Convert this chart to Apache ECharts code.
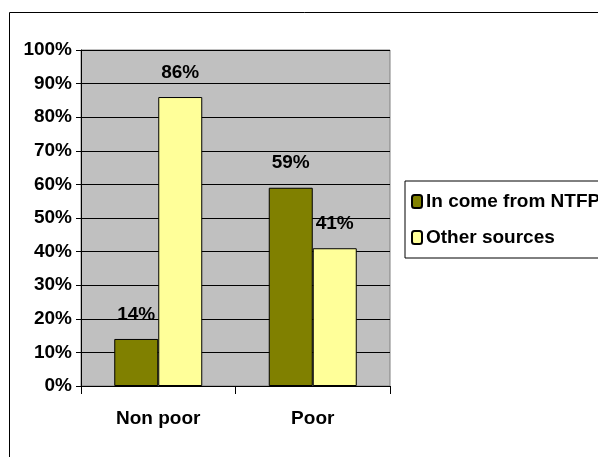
<!DOCTYPE html>
<html>
<head>
<meta charset="utf-8">
<script src="https://cdn.jsdelivr.net/npm/echarts@6/dist/echarts.min.js"></script>
<style>
    html, body { margin: 0; padding: 0; background: #fff; }
    #chartIncome { width: 598px; height: 457px; }
</style>
</head>
<body>
<div id="chartIncome"></div>
<script>
    // data
    var categories = ['Non poor', 'Poor'];
    var seriesNames = ['In come from NTFPs', 'Other sources'];
    var ntfpValues = [14, 59];
    var otherValues = [86, 41];

    var font = '"Liberation Sans", Arial, sans-serif';
    var fontSize = 19;

    var myChart = echarts.init(document.getElementById('chartIncome'));
    myChart.setOption({
        animation: false,
        textStyle: { fontFamily: font },
        graphic: [{
            type: 'rect',
            shape: { x: 9.5, y: 12.5, width: 700, height: 600 },
            style: { fill: null, stroke: '#000', lineWidth: 1 },
        }],
        grid: {
            left: 81,
            top: 50,
            right: 208,
            bottom: 71,
            show: true,
            backgroundColor: '#c0c0c0',
            borderColor: '#808080',
            borderWidth: 1,
        },
        legend: {
            orient: 'vertical',
            left: 405,
            top: 181,
            data: seriesNames,
            backgroundColor: '#fff',
            borderColor: '#000',
            borderWidth: 1,
            padding: [11, 60, 11, 6],
            itemGap: 17,
            itemWidth: 10,
            itemHeight: 13,
            textStyle: {
                fontFamily: font,
                fontSize: fontSize,
                fontWeight: 'bold',
                color: '#000',
                padding: [0, 0, 0, -1],
            },
        },
        xAxis: {
            type: 'category',
            data: categories,
            axisLine: { lineStyle: { color: '#000' } },
            axisTick: { show: true, length: 8, lineStyle: { color: '#000' } },
            axisLabel: {
                color: '#000',
                fontFamily: font,
                fontSize: fontSize,
                fontWeight: 'bold',
                margin: 23,
            },
        },
        yAxis: {
            type: 'value',
            min: 0,
            max: 100,
            interval: 10,
            axisLine: { show: true, lineStyle: { color: '#000' } },
            axisTick: { show: true, length: 5, lineStyle: { color: '#000' } },
            axisLabel: {
                formatter: '{value}%',
                color: '#000',
                fontFamily: font,
                fontSize: fontSize,
                fontWeight: 'bold',
                margin: 9,
            },
            splitLine: { show: true, lineStyle: { color: '#000' } },
        },
        series: [{
            name: seriesNames[0],
            type: 'bar',
            data: ntfpValues,
            barWidth: 44,
            barGap: '0%',
            itemStyle: { color: '#808000', borderColor: '#000', borderWidth: 1 },
            label: {
                show: true,
                position: 'top',
                distance: 15,
                formatter: '{c}%',
                color: '#000',
                fontFamily: font,
                fontSize: fontSize,
                fontWeight: 'bold',
            },
        }, {
            name: seriesNames[1],
            type: 'bar',
            data: otherValues,
            barWidth: 44,
            barGap: '0%',
            itemStyle: { color: '#ffff99', borderColor: '#000', borderWidth: 1 },
            label: {
                show: true,
                position: 'top',
                distance: 15,
                formatter: '{c}%',
                color: '#000',
                fontFamily: font,
                fontSize: fontSize,
                fontWeight: 'bold',
            },
        }],
    });
</script>
</body>
</html>
